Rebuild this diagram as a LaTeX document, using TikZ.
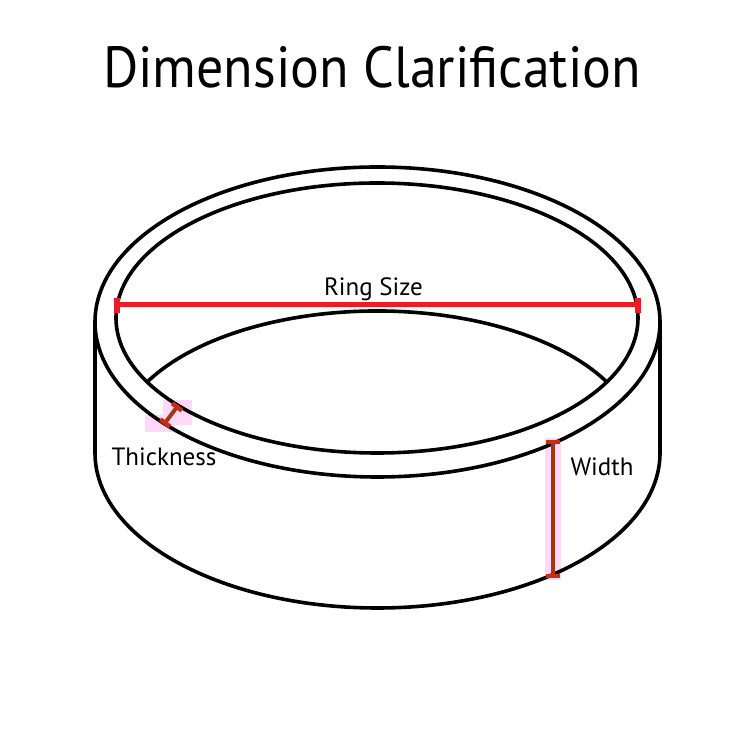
\documentclass[tikz,border=0pt]{standalone}
\usepackage{fontspec}
\setmainfont{PT Sans}
\definecolor{ringred}{RGB}{237,28,36}
\definecolor{markbrown}{RGB}{160,58,14}
\definecolor{markcap}{RGB}{200,45,20}
\definecolor{hilite}{RGB}{255,216,250}
\begin{document}
\begin{tikzpicture}[x=1pt,y=1pt,
  outline/.style={line width=3.6pt,black},
  ringline/.style={line width=5pt,ringred},
  ringcap/.style={fill=ringred},
  markline/.style={line width=4pt,markbrown},
  markend/.style={line width=4.5pt,markcap},
  hl/.style={fill=hilite},
  lbl/.style={font=\fontsize{25}{30}\selectfont,anchor=base,inner sep=0pt}]
\useasboundingbox[fill=white] (0,0) rectangle (740,736);
% highlights
\fill[hl] (545,156) rectangle (561,298);
\fill[hl] (163,311) rectangle (192,336);
\fill[hl] (145,304) rectangle (175,321);
% outer top ellipse
\draw[outline] (377.5,414) ellipse[x radius=282.5, y radius=155];
% inner top ellipse
\draw[outline] (377,418) ellipse[x radius=261, y radius=135];
% sides and bottom
\draw[outline] (95,414) -- (95,283) arc[start angle=180, end angle=360, x radius=282.5, y radius=155] -- (660,414);
% inner bottom arc
\draw[outline] (147.2,354) arc[start angle=151.7, end angle=28.3, x radius=261, y radius=135];
% ring size
\coordinate (rsl) at (117,431);
\coordinate (rsr) at (638,431);
\draw[ringline] (rsl) -- (rsr);
\fill[ringcap] (114,423) rectangle (120,438);
\fill[ringcap] (635,423) rectangle (641,438);
\node[lbl] (ringsize) at (373.5,440) {Ring Size};
% thickness marker
\coordinate (tu) at (177,329);
\coordinate (tl) at (165,313);
\draw[markline] (tu) -- (tl);
\draw[markend] (172.2,332.6) -- (181.8,325.4);
\draw[markend] (160.2,316.6) -- (169.8,309.4);
\node[lbl] (thick) at (164,270) {Thickness};
% width marker
\coordinate (wt) at (553,293);
\coordinate (wb) at (553,161);
\draw[markline] (wt) -- (wb);
\draw[markend] (546,294) -- (560,294);
\draw[markend] (546,160) -- (560,160);
\node[lbl] (width) at (602,260) {Width};
% title
\node[anchor=base,inner sep=0pt,font=\fontsize{58}{66}\selectfont] (title) at (372,648) {\scalebox{0.93}[1]{Dimension Clarification}};
\end{tikzpicture}
\end{document}
